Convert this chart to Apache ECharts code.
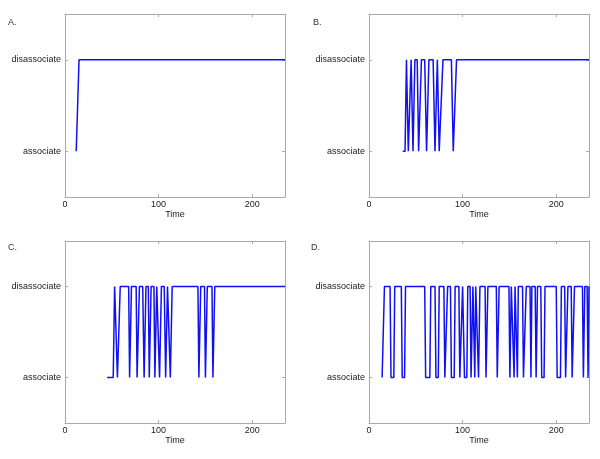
<!DOCTYPE html>
<html lang="en">
<head>
  <meta charset="UTF-8">
  <title>Association traces</title>
  <script src="https://cdn.jsdelivr.net/npm/echarts@6/dist/echarts.min.js"></script>
  <style>
    html, body { margin: 0; padding: 0; background: #fff; }
    #target { width: 600px; height: 459px; }
  </style>
</head>
<body>
  <div id="target"></div>
  <script>
    // state levels (y categories) and x tick labels
    const states = ['associate', 'disassociate'];
    const timeTicks = [0, 100, 200];
    const panelNames = ['A.', 'B.', 'C.', 'D.'];

    // [time, state] corners
    const traceA = [[12, 0], [13.5, 0], [15, 1], [235, 1]];

    const traceB = [
      [36, 0], [38.5, 0], [40, 1], [41, 1], [42, 0], [43.5, 0], [45, 1], [46, 1],
      [47, 0], [48, 0], [49, 1], [51.5, 1], [53, 0], [54.5, 0], [56, 1], [59.5, 1],
      [61.5, 0], [62.5, 0], [64, 1], [68.5, 1], [70.5, 0], [72, 0], [73, 1], [74, 1],
      [75, 0], [77, 0], [79, 1], [88, 1], [90, 0], [92, 0], [93.5, 1], [235, 1]
    ];

    const traceC = [
      [45, 0], [51.5, 0], [53, 1], [55, 1], [56, 0], [58, 0], [59, 1], [68, 1],
      [69, 0], [70, 0], [71, 1], [76, 1], [77, 0], [78.5, 0], [79.5, 1], [83, 1],
      [84.5, 0], [85.5, 0], [86.5, 1], [89, 1], [90, 0], [91, 0], [92, 1], [95, 1],
      [96, 0], [97, 0], [98, 1], [100, 1], [101, 0], [102, 0], [103, 1], [106, 1],
      [107.5, 0], [108.5, 0], [109.5, 1], [111.5, 1], [112.5, 0], [113.5, 0], [114.5, 1], [142, 1],
      [143, 0], [144, 0], [145, 1], [149, 1], [150, 0], [151, 0], [152, 1], [157, 1],
      [158, 0], [159, 0], [160, 1], [235, 1]
    ];

    const traceD = [
      [14, 0],
      [15.5, 0], [16.5, 1], [22.5, 1], [23.5, 0],
      [26.5, 0], [27.5, 1], [34.5, 1], [35.5, 0],
      [38, 0], [39, 1], [59.5, 1], [60.5, 0],
      [65, 0], [66, 1], [70.5, 1], [71.5, 0],
      [74, 0], [75, 1], [80, 1], [81, 0],
      [83, 0], [84, 1], [87, 1], [88, 0],
      [91, 0], [92, 1], [96, 1], [97, 0],
      [99, 0], [100, 1], [101, 1], [102, 0],
      [104.5, 0], [105.5, 1], [108, 1], [109, 0],
      [110, 0], [111, 1], [112, 1], [113, 0],
      [114, 1], [116, 1], [117, 0],
      [117.5, 0], [118.5, 1], [124, 1], [125, 0],
      [126, 0], [127, 1], [136, 1], [137, 0],
      [138, 0], [139, 1], [149.5, 1], [150.5, 0],
      [151, 0], [152, 1], [154, 1], [155, 0],
      [156, 1], [157.5, 1], [158.5, 0],
      [159.5, 1], [164, 1], [165, 0],
      [167, 0], [168, 1], [172, 1], [173, 0],
      [174, 1], [177.5, 1], [178.5, 0],
      [179, 0], [180, 1], [183.5, 1], [184.5, 0],
      [187, 0], [188, 1], [200, 1], [201, 0],
      [204.5, 0], [205.5, 1], [209, 1], [210, 0],
      [211.5, 0], [212.5, 1], [216, 1], [217, 0],
      [218.5, 0], [219.5, 1], [228, 1], [229, 0],
      [229.5, 0], [230.5, 1], [233, 1], [234, 0],
      [235, 1]
    ];

    const traces = [traceA, traceB, traceC, traceD];

    const grids = [
      { left: 65, top: 14, width: 220, height: 183 },
      { left: 369, top: 14, width: 220, height: 183 },
      { left: 65, top: 241, width: 220, height: 182 },
      { left: 369, top: 241, width: 220, height: 182 }
    ];
    const letterPos = [[8, 18], [313, 18], [8, 243], [311, 243]];

    const frame = '#a9a9a9';
    const font = { fontFamily: 'Liberation Sans, Arial, sans-serif', fontSize: 9, color: '#222' };

    const xAxis = [], yAxis = [], series = [], title = [];
    grids.forEach((g, i) => {
      const common = {
        gridIndex: i, type: 'value', min: 0, max: 235,
        axisLine: { show: true, onZero: false, lineStyle: { color: frame, width: 1 } },
        splitLine: { show: false },
        axisTick: { show: true, inside: true, length: 3, customValues: timeTicks, lineStyle: { color: frame } }
      };
      xAxis.push(Object.assign({}, common, {
        position: 'bottom',
        name: 'Time', nameLocation: 'middle', nameGap: 11,
        nameTextStyle: font,
        axisLabel: Object.assign({ margin: 3, customValues: timeTicks }, font)
      }));
      xAxis.push(Object.assign({}, common, {
        position: 'top',
        axisLabel: { show: false }
      }));
      const ycommon = {
        gridIndex: i, type: 'category', data: states, boundaryGap: true,
        axisLine: { show: true, onZero: false, lineStyle: { color: frame, width: 1 } },
        splitLine: { show: false },
        axisTick: { show: true, inside: true, length: 3, alignWithLabel: true, lineStyle: { color: frame } }
      };
      yAxis.push(Object.assign({}, ycommon, {
        position: 'left',
        axisLabel: Object.assign({ margin: 4 }, font)
      }));
      yAxis.push(Object.assign({}, ycommon, {
        position: 'right',
        axisLabel: { show: false }
      }));
      series.push({
        type: 'line',
        xAxisIndex: i * 2,
        yAxisIndex: i * 2,
        data: traces[i],
        showSymbol: false,
        symbol: 'none',
        clip: true,
        lineStyle: { color: '#1010f0', width: 1.5 },
        animation: false
      });
      title.push({
        text: panelNames[i],
        left: letterPos[i][0], top: letterPos[i][1],
        padding: 0,
        textStyle: Object.assign({}, font, { fontWeight: 'normal', color: '#333' })
      });
    });

    const option = {
      animation: false,
      backgroundColor: '#fff',
      title,
      grid: grids,
      xAxis,
      yAxis,
      series
    };
    echarts.init(document.getElementById('target')).setOption(option);
  </script>
</body>
</html>
